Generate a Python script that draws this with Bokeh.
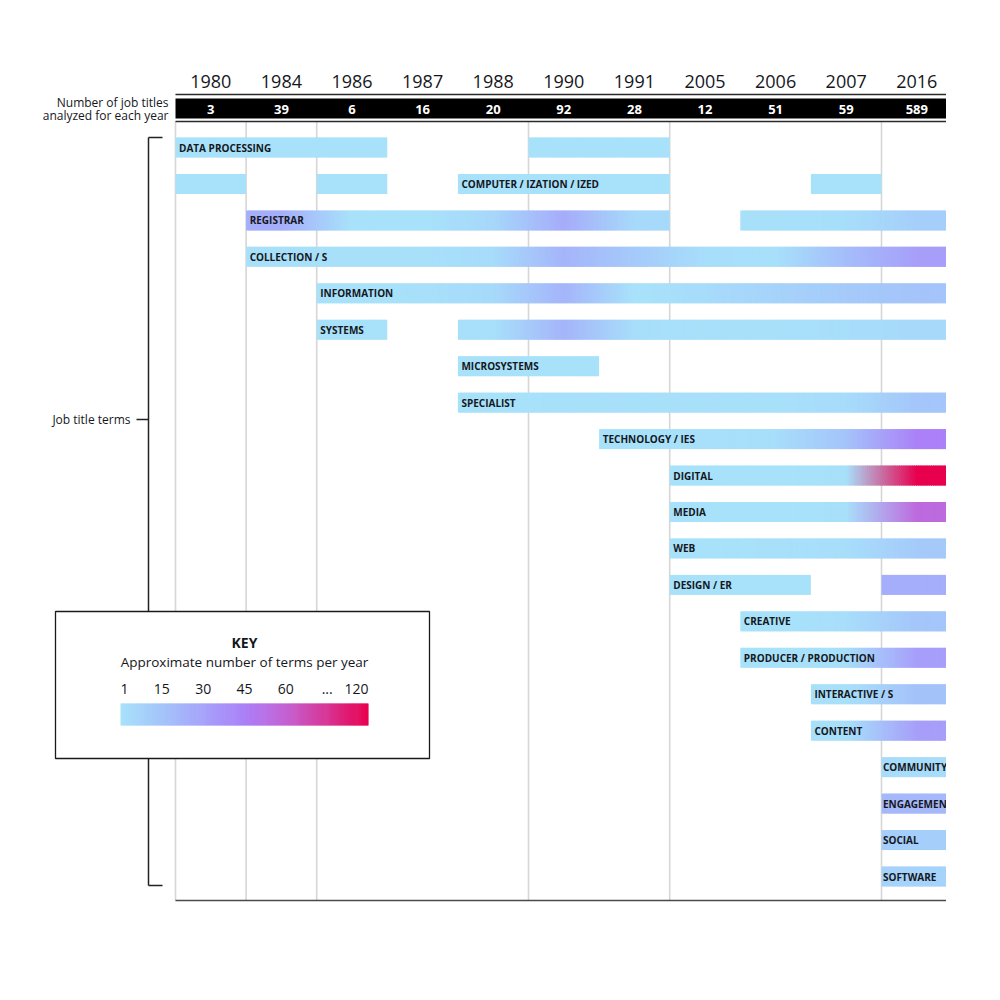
import numpy as np
from bokeh.plotting import figure
from bokeh.models import Range1d
from bokeh.embed import file_html
from bokeh.resources import INLINE
from bokeh.core.properties import value

# ---------------- data ----------------
years = ["1980", "1984", "1986", "1987", "1988", "1990", "1991", "2005", "2006", "2007", "2016"]
titles_analyzed = [3, 39, 6, 16, 20, 92, 28, 12, 51, 59, 589]

terms = ["DATA PROCESSING", "COMPUTER / IZATION / IZED", "REGISTRAR", "COLLECTION / S",
         "INFORMATION", "SYSTEMS", "MICROSYSTEMS", "SPECIALIST", "TECHNOLOGY / IES",
         "DIGITAL", "MEDIA", "WEB", "DESIGN / ER", "CREATIVE", "PRODUCER / PRODUCTION",
         "INTERACTIVE / S", "CONTENT", "COMMUNITY", "ENGAGEMENT", "SOCIAL", "SOFTWARE"]

N = None
# approximate number of occurrences of each term per year (None = term absent that year)
term_counts = [
    [1, 1, 1, N, N, 1, 1, N, N, N, N],        # DATA PROCESSING
    [1, N, 1, N, 1, 1, 1, N, N, 1, N],        # COMPUTER
    [N, 25, 1, 1, 6, 26, 5, N, 2, 3, 10],     # REGISTRAR
    [N, 2, 2, 2, 4, 22, 12, 3, 2, 18, 32],    # COLLECTION
    [N, N, 1, 2, 5, 22, 1, 4, 8, 12, 15],     # INFORMATION
    [N, N, 1, N, 2, 22, 3, 2, 2, 3, 5],       # SYSTEMS
    [N, N, N, N, 1, 1, N, N, N, N, N],        # MICROSYSTEMS
    [N, N, N, N, 1, 2, 2, 2, 2, 4, 14],       # SPECIALIST
    [N, N, N, N, N, N, 1, 2, 3, 15, 45],      # TECHNOLOGY
    [N, N, N, N, N, N, N, 1, 1, 2, 120],      # DIGITAL
    [N, N, N, N, N, N, N, 1, 1, 2, 56],       # MEDIA
    [N, N, N, N, N, N, N, 1, 2, 3, 12],       # WEB
    [N, N, N, N, N, N, N, 1, 1, N, 25],       # DESIGN
    [N, N, N, N, N, N, N, N, 1, 3, 14],       # CREATIVE
    [N, N, N, N, N, N, N, N, 1, 3, 32],       # PRODUCER
    [N, N, N, N, N, N, N, N, N, 2, 16],       # INTERACTIVE
    [N, N, N, N, N, N, N, N, N, 2, 32],       # CONTENT
    [N, N, N, N, N, N, N, N, N, N, 4],        # COMMUNITY
    [N, N, N, N, N, N, N, N, N, N, 20],       # ENGAGEMENT
    [N, N, N, N, N, N, N, N, N, N, 10],       # SOCIAL
    [N, N, N, N, N, N, N, N, N, N, 8],        # SOFTWARE
]
# which run of bars carries the row's label
label_segment = [0, 2] + [0] * 19

key_ticks = ["1", "15", "30", "45", "60", "...", "120"]
key_values = [1, 15, 30, 45, 60, 90, 120]
key_colors = ["#a8e2fa", "#a4c4fa", "#a6a3fa", "#ab80f8", "#c462d4", "#d83494", "#e8004e"]

# ---------------- scales / layout helpers ----------------
COL_PX, X0_PX = 70.6, 175.0
ROW_PX, Y0_PX = 36.45, 147.0
fx = lambda px: (px - X0_PX) / COL_PX
fy = lambda py: (py - Y0_PX) / ROW_PX

FONT = value("Open Sans")
INK = "#15171c"

p = figure(width=946, height=984,
           x_range=Range1d(fx(0), fx(946)), y_range=Range1d(fy(984), fy(0)),
           x_axis_type=None, y_axis_type=None,
           output_backend="svg", toolbar_location=None, min_border=0)
p.outline_line_color = None
p.grid.visible = False
p.background_fill_color = "white"
p.border_fill_color = "white"

stop_pos = np.linspace(0, 1, len(key_values))
stop_rgb = np.array([[int(c[i:i + 2], 16) for i in (1, 3, 5)] for c in key_colors], float)


def pos_of(v):
    return np.interp(v, key_values, stop_pos)


def rgb_at_pos(t):
    return np.array([np.interp(t, stop_pos, stop_rgb[:, k]) for k in range(3)]).T


def hexes(rgb):
    rgb = np.clip(np.round(rgb), 0, 255).astype(int)
    return ["#%02x%02x%02x" % tuple(c) for c in rgb]


def txt(x, y, s, size, bold=False, color=INK, align="left", baseline="middle"):
    p.text(x=[x], y=[y], text=[s], text_font=FONT, text_font_size=value(f"{size}px"),
           text_font_style="bold" if bold else "normal", text_color=color,
           text_align=align, text_baseline=baseline)


n_years = len(years)
BAR_H = 20 / ROW_PX
top_line_y, band_top, band_bot, sub_line_y = fy(94), fy(98), fy(118), fy(121)
bottom_y = fy(900)

# ---------------- gridlines at gaps between non-consecutive years ----------------
grid_x = [0] + [i for i in range(1, n_years) if int(years[i]) - int(years[i - 1]) > 1]
p.segment(x0=grid_x, y0=[sub_line_y] * len(grid_x), x1=grid_x, y1=[bottom_y] * len(grid_x),
          line_color="#d6d6d6", line_width=1.6)

# ---------------- header ----------------
p.quad(left=[0], right=[n_years], top=[band_top], bottom=[band_bot],
       fill_color="black", line_color=None)
p.segment(x0=[0, 0], x1=[n_years, n_years], y0=[top_line_y, sub_line_y], y1=[top_line_y, sub_line_y],
          line_color="#2a2a2a", line_width=1.6)
p.segment(x0=[0], x1=[n_years], y0=[bottom_y], y1=[bottom_y], line_color="#4a4a4a", line_width=1.6)
centers = [i + 0.5 for i in range(n_years)]
p.text(x=centers, y=[fy(81)] * n_years, text=years, text_font=FONT, text_font_size=value("18px"),
       text_color=INK, text_align="center", text_baseline="middle")
p.text(x=centers, y=[fy(108.5)] * n_years, text=[str(v) for v in titles_analyzed], text_font=FONT,
       text_font_size=value("13px"), text_font_style="bold", text_color="white",
       text_align="center", text_baseline="middle")
txt(fx(168), fy(102), "Number of job titles", 12, align="right")
txt(fx(168), fy(114.5), "analyzed for each year", 12, align="right")

# ---------------- bracket ----------------
bx, btx = fx(148), fx(162)
p.segment(x0=[bx, bx, bx, fx(136)], y0=[fy(137), fy(137), fy(885), fy(419)],
          x1=[bx, btx, btx, bx], y1=[fy(885), fy(137), fy(885), fy(419)],
          line_color="#222222", line_width=1.5)
txt(fx(130), fy(419), "Job title terms", 12, align="right")

# ---------------- bars ----------------
STEP = 0.03
L, R, T, B, C = [], [], [], [], []
lab_x, lab_y, lab_t = [], [], []
for row, (term, counts) in enumerate(zip(terms, term_counts)):
    runs, start = [], None
    for i, v in enumerate(counts + [None]):
        if v is not None and start is None:
            start = i
        elif v is None and start is not None:
            runs.append((start, i - 1))
            start = None
    col_pos = [pos_of(v) if v is not None else np.nan for v in counts]
    for a, b in runs:
        cx = np.array([i + 0.5 for i in range(a, b + 1)])
        crgb = np.atleast_2d(rgb_at_pos(np.array(col_pos[a:b + 1])))
        nsl = max(1, int(round((b + 1 - a) / STEP)))
        edges = np.linspace(a, b + 1, nsl + 1)
        mids = (edges[:-1] + edges[1:]) / 2
        rgb = np.array([np.interp(mids, cx, crgb[:, k]) for k in range(3)]).T
        L += list(edges[:-1])
        R += list(np.minimum(edges[1:] + STEP * 0.6, b + 1))
        T += [row - BAR_H / 2] * nsl
        B += [row + BAR_H / 2] * nsl
        C += hexes(rgb)
    a0 = runs[label_segment[row]][0]
    lab_x.append(a0 + (0.02 if a0 == n_years - 1 else 0.05))
    lab_y.append(row)
    lab_t.append(term)

p.quad(left=L, right=R, top=T, bottom=B, fill_color=C, line_color=None)
p.text(x=lab_x, y=lab_y, text=lab_t, text_font=FONT, text_font_size=value("10px"),
       text_font_style="bold", text_color=INK, text_align="left", text_baseline="middle")

# ---------------- key ----------------
p.quad(left=[fx(55)], right=[fx(429)], top=[fy(611)], bottom=[fy(758)],
       fill_color="white", line_color="#1a1a1a", line_width=1.3)
kc = fx(244)
txt(kc, fy(642), "KEY", 14, bold=True, align="center")
txt(kc, fy(661), "Approximate number of terms per year", 13.5, align="center")
kx0, kx1 = fx(120), fx(368)
nk = 240
kedges = np.linspace(kx0, kx1, nk + 1)
kt = (np.arange(nk) + 0.5) / nk
p.quad(left=kedges[:-1], right=np.minimum(kedges[1:] + 0.01, kx1), top=[fy(703)] * nk,
       bottom=[fy(725)] * nk, fill_color=hexes(rgb_at_pos(kt)), line_color=None)
for lbl, sp in zip(key_ticks, stop_pos):
    align = "left" if sp == 0 else ("right" if sp == 1 else "center")
    txt(kx0 + sp * (kx1 - kx0), fy(688), lbl, 14, align=align)

open("out.html", "w").write(file_html(p, INLINE))
